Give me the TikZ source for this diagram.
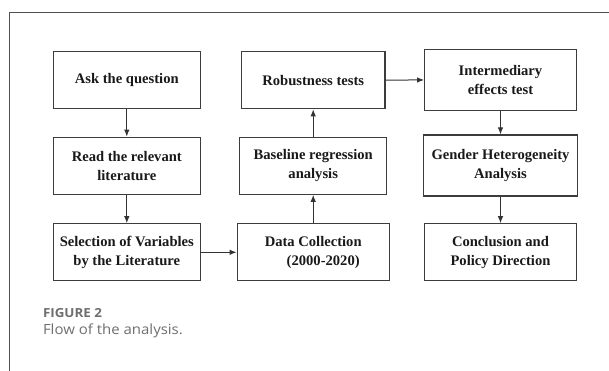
\documentclass[tikz,border=0pt]{standalone}
\usepackage{fontspec}
\setmainfont{Liberation Serif}
\newfontfamily\capfont[FakeStretch=1.07]{Open Sans}
\usetikzlibrary{arrows.meta}

\definecolor{rahmen}{HTML}{3C3C3C}
\definecolor{pfeil}{HTML}{333333}
\definecolor{textgrau}{HTML}{6E6E6E}

\begin{document}
\begin{tikzpicture}[x=1pt, y=-1pt,
		box/.style={draw=rahmen, line width=1.2pt, minimum width=#1, minimum height=57pt, inner sep=2pt,
			align=center, font=\fontsize{14.6}{19}\selectfont\bfseries, text=black!90},
		arr/.style={draw=pfeil, line width=1pt, -{Latex[length=7pt,width=5.5pt]}}]
		%Bildbereich
		\useasboundingbox (0,0) rectangle (609,370);
		%Rahmen der Karte
		\draw[rahmen!90, line width=1.3pt] (609,12.3) -- (9.3,12.3) -- (9.3,371);
		% Spalte 1
		\node[box=147pt] (frage) at (126.8,80.2) {Ask the question};
		\node[box=147pt] (lesen) at (126.8,165.7) {Read the relevant\\literature};
		\node[box=147pt] (auswahl) at (126.8,252.3) {Selection of Variables\\by the Literature};
		% Spalte 2
		\node[box=143.7pt] (robust) at (313.2,80.2) {Robustness tests};
		\node[box=147pt] (basis) at (313.2,165.7) {Baseline regression\\analysis};
		\node[box=152pt] (daten) at (313.2,252.3) {Data Collection\\\hspace*{20pt}(2000-2020)};
		% Spalte 3
		\node[box=151.6pt, minimum height=61pt] (mittel) at (500.5,79.8) {Intermediary\\effects test};
		\node[box=154.7pt, minimum height=61pt] (gender) at (500.5,165.5) {Gender Heterogeneity\\Analysis};
		\node[box=151.6pt] (schluss) at (500.5,252.3) {Conclusion and\\Policy Direction};
		%Pfeile
		\draw[arr] (frage) -- (lesen);
		\draw[arr] (lesen) -- (auswahl);
		\draw[arr] (auswahl) -- (daten);
		\draw[arr] (daten) -- (basis);
		\draw[arr] (basis) -- (robust);
		\draw[arr] (robust) -- (mittel);
		\draw[arr] (mittel) -- (gender);
		\draw[arr] (gender) -- (schluss);
		%Beschriftung
		\node[anchor=base west, inner sep=0pt, text=textgrau, font=\capfont\fontsize{12.5}{14}\selectfont\bfseries] (figtitel) at (42.8,317.5) {FIGURE 2};
		\node[anchor=base west, inner sep=0pt, text=textgrau, font=\capfont\fontsize{14}{16}\selectfont] (figtext) at (42.8,334) {Flow of the analysis.};
	\end{tikzpicture}
\end{document}
